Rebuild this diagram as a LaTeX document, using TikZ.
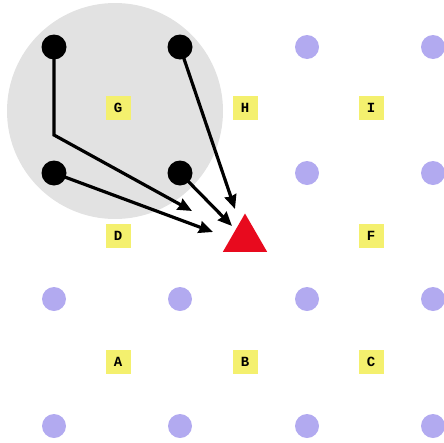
\documentclass[tikz,border=0pt]{standalone}
\usepackage{fontspec}
\setmonofont{Liberation Mono}
\usepackage{xcolor}
\usetikzlibrary{shapes.geometric,arrows.meta,positioning}

\definecolor{lavender}{RGB}{178,170,240}
\definecolor{tagyellow}{RGB}{244,240,110}
\definecolor{zonegray}{RGB}{226,226,226}
\definecolor{goalred}{RGB}{232,10,30}

\begin{document}
\begin{tikzpicture}[
    x=1pt, y=-1pt,
    dot/.style={circle, fill=lavender, minimum size=24pt, inner sep=0pt},
    agent/.style={circle, fill=black, minimum size=25pt, inner sep=0pt},
    tag/.style={rectangle, fill=tagyellow, minimum width=25pt, minimum height=24pt, inner sep=0pt, font=\ttfamily\bfseries\fontsize{14}{14}\selectfont},
    goal/.style={regular polygon, regular polygon sides=3, fill=goalred, minimum size=51pt, inner sep=0pt},
    arrow/.style={-{Stealth[length=14pt,width=12pt,inset=1pt]}, line width=3.2pt}
]
\useasboundingbox (0,0) rectangle (444,442);

% zone round the agents
\fill[zonegray] (115,111) circle (108);

% grid points
\foreach \x/\c in {307/c, 433/d} {
    \node[dot] (p-\c-1) at (\x,47) {};
    \node[dot] (p-\c-2) at (\x,173) {};
}
\foreach \x/\c in {54/a, 180/b, 307/c, 433/d} {
    \node[dot] (p-\c-3) at (\x,299) {};
    \node[dot] (p-\c-4) at (\x,426) {};
}

% cell labels
\node[tag] (G) at (118,108) {G};
\node[tag] (H) at (245,108) {H};
\node[tag] (I) at (371,108) {I};
\node[tag] (D) at (118,236) {D};
\node[tag] (F) at (371,236) {F};
\node[tag] (A) at (118,362) {A};
\node[tag] (B) at (245,362) {B};
\node[tag] (C) at (371,362) {C};

% agents and goal
\node[agent] (a1) at (54,47) {};
\node[agent] (a2) at (180,47) {};
\node[agent] (a3) at (54,173) {};
\node[agent] (a4) at (180,173) {};
\node[goal] (goal) at (245,239) {};

\coordinate (bend) at (54,135);
\coordinate (e1) at (192,211);
\coordinate (e2) at (235,209);
\coordinate (e3) at (213,232);
\coordinate (e4) at (232,226);

\draw[arrow] (a1.center) -- (bend) -- (e1);
\draw[arrow] (a2.center) -- (e2);
\draw[arrow] (a3.center) -- (e3);
\draw[arrow] (a4.center) -- (e4);

\end{tikzpicture}
\end{document}
